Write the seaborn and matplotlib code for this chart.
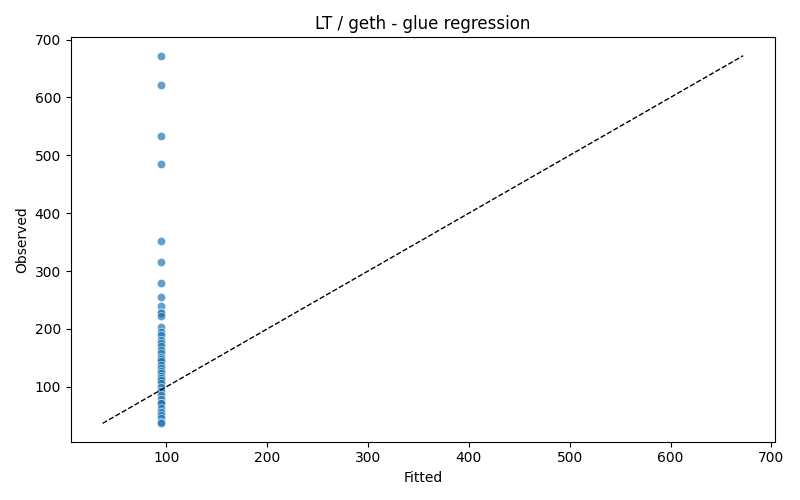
import matplotlib
matplotlib.use("Agg")
import matplotlib.pyplot as plt
import seaborn as sns
import pandas as pd

observed = [672, 622, 533, 485, 352, 316, 280, 256, 240, 230, 227, 223, 204,
            194, 190, 181, 176, 170, 164, 158, 152, 148, 144, 138, 132, 128,
            124, 118, 115, 112, 106, 100, 93, 86, 79, 72, 72, 63, 57, 52, 46,
            40, 37]
# model gives the same fitted value for every point
fitted_value = 94.5
fitted = [fitted_value] * len(observed)

df = pd.DataFrame({"Fitted": fitted, "Observed": observed})

fig, ax = plt.subplots(figsize=(8, 5), dpi=100)
sns.scatterplot(data=df, x="Fitted", y="Observed", alpha=0.7, ax=ax)

lo, hi = min(observed), max(observed)
ax.plot([lo, hi], [lo, hi], "k--", linewidth=1)

ax.set_title("LT / geth - glue regression")
ax.set_xlabel("Fitted")
ax.set_ylabel("Observed")
plt.tight_layout()
plt.savefig("out.png")
